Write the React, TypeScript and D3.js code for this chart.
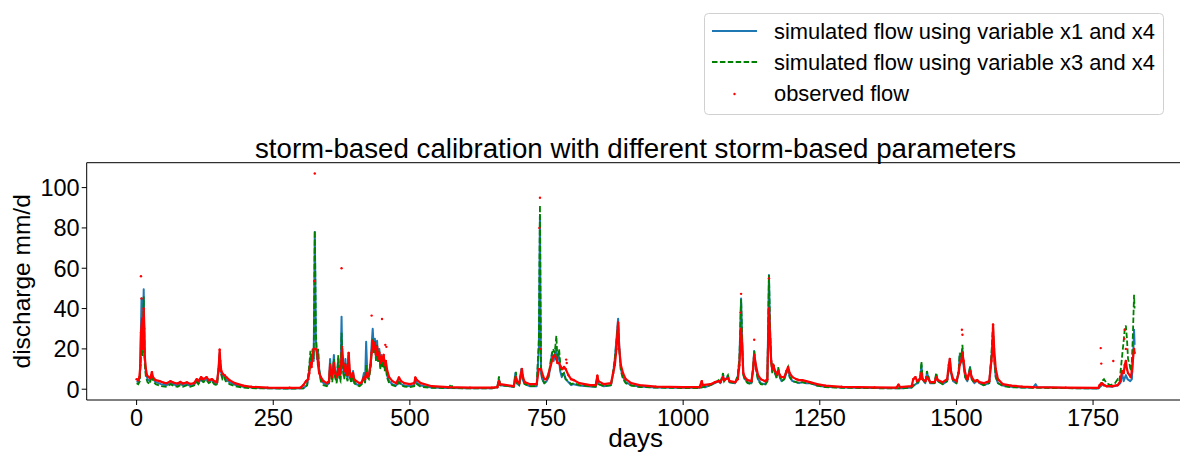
import React from "react";
import * as d3 from "d3";

type P = [number, number];

// simulated flow using variable x1 and x4  [day, mm/d]
const simX1X4: P[] = [
  [0,4],[3,3.5],[6,6],[8,30],[9,45],[10,30],[11,20],[12,35],[13,49.6],[14,30],[15,15],[17,8],[20,5],[24,4],[28,7.5],[30,5],[35,3.5],[45,2.5],[55,2],[62,3],[68,2.3],[75,1.8],[80,2.8],[85,1.8],[92,2.5],[98,1.6],[105,2.2],[110,4],[113,3],[118,5],[122,4],[128,5],[132,3.5],[138,4.5],[142,3],[147,2.5],[150,10],[152,18],[154,9],[157,6],[160,7],[163,5],[170,3.5],[180,2.2],[195,1.2],[210,0.8],[240,0.5],[280,0.4],[305,0.5],[312,2],[316,10],[318,16],[320,12],[322,18],[324,14],[326,78],[327,55],[328,25],[330,15],[332,19],[334,10],[337,5],[342,3],[348,2],[352,3],[354,15],[356,8],[358,5],[361,17],[363,8],[366,4],[369,15],[371,6],[373,5],[375,36],[376,20],[378,10],[380,6],[382,15],[384,8],[386,5],[388,17],[390,7],[393,4],[396,9],[398,4],[402,2.5],[408,2],[412,3],[416,8],[418,3.5],[420,23.5],[422,8],[425,6],[428,12],[430,22],[432,30],[434,20],[436,25],[438,15],[440,24],[442,14],[444,20],[446,11],[448,17],[450,12],[452,16],[454,10],[456,14],[458,7],[462,4],[468,2.5],[475,1.8],[480,4],[484,2.5],[490,1.8],[500,1.5],[508,2],[510,5],[513,3],[520,1.8],[540,0.9],[570,0.6],[610,0.5],[650,0.5],[660,1],[663,5],[665,2],[690,1.2],[693,8],[695,3],[700,2],[704,10],[706,5],[710,2.5],[720,1.5],[732,1.5],[736,20],[738,86],[739,40],[740,8],[742,5],[746,3],[750,4],[754,6],[758,13],[760,18],[763,14],[767,20],[769,14],[772,18],[775,9],[778,6],[782,8],[785,5],[790,3.5],[795,2],[800,2.5],[810,1.8],[830,1.3],[840,1.2],[843,5],[845,2.5],[855,1.5],[868,2],[872,8],[875,15],[878,25],[881,35],[883,22],[886,10],[890,6],[895,3.5],[905,2],[920,1.3],[950,0.9],[1000,0.7],[1030,0.7],[1034,1.5],[1040,1],[1050,2],[1058,3],[1065,4],[1068,3],[1073,7],[1075,4],[1082,6.5],[1085,3.5],[1095,3],[1100,6.5],[1103,15],[1106,45],[1108,25],[1110,8],[1113,5],[1118,3.5],[1125,3],[1128,10],[1130,19],[1133,11],[1137,5],[1142,3],[1150,2.5],[1154,4],[1157,56.7],[1159,30],[1161,15],[1163,9],[1165,12],[1168,8],[1171,6],[1174,10],[1177,6],[1180,4],[1185,5],[1189,8],[1192,10],[1195,6],[1200,4],[1207,3.5],[1212,3],[1218,3.5],[1225,3],[1232,3],[1245,1.8],[1260,1.2],[1290,0.8],[1350,0.6],[1400,0.5],[1418,0.8],[1425,2.5],[1430,3],[1434,6],[1436,12],[1438,5],[1443,3],[1446,8],[1449,6],[1452,3],[1460,3],[1463,7],[1466,4],[1475,2.5],[1483,4],[1486,10],[1488,15],[1490,8],[1494,4],[1500,3],[1504,8],[1506,17],[1509,14],[1511,20],[1513,12],[1516,6],[1520,4],[1525,11],[1528,5],[1533,3],[1538,4.5],[1542,3],[1550,2],[1560,3],[1564,15],[1566,24],[1567,28],[1569,15],[1572,6],[1576,3],[1585,1.8],[1600,1.2],[1620,0.9],[1640,0.8],[1645,2.5],[1648,1],[1700,0.6],[1760,0.4],[1762,1],[1768,2.5],[1775,1.5],[1785,1.2],[1795,2],[1800,3],[1803,8],[1806,4],[1810,7],[1813,5],[1818,4],[1821,5],[1823,15],[1825,29.5],[1826,22]
];

// simulated flow using variable x3 and x4  [day, mm/d]
const simX3X4: P[] = [
  [0,3],[3,2.5],[6,4],[8,18],[9,28],[10,20],[11,16],[12,30],[13,46],[14,28],[15,12],[17,6],[20,3.5],[24,2.5],[28,7],[30,4],[35,2.5],[45,1.5],[55,1.2],[62,2.5],[68,1.5],[75,1.2],[80,2],[85,1.2],[92,2],[98,1.2],[105,1.8],[110,3.5],[113,2.5],[118,4.5],[122,3.5],[128,4.5],[132,3],[138,4],[142,2.5],[147,2],[150,9],[152,17],[154,8],[157,5],[160,6],[163,4],[170,2.5],[180,1.5],[195,0.8],[210,0.5],[240,0.4],[280,0.3],[305,0.4],[312,2],[316,12],[318,19],[320,14],[322,20],[324,15],[326,78.6],[327,55],[328,28],[330,17],[332,20],[334,10],[337,4],[342,2],[348,1.5],[352,2.5],[354,13],[356,6],[358,3.5],[361,15],[363,6],[366,3],[369,17],[371,5],[373,4],[375,28],[376,18],[378,8],[380,5],[382,13],[384,6],[386,4],[388,18],[390,6],[393,3],[396,8],[398,3],[402,2],[408,1.5],[412,2.5],[416,6],[418,3],[420,12],[422,6],[425,5],[428,10],[430,18],[432,25],[434,18],[436,24],[438,14],[440,22],[442,13],[444,19],[446,10],[448,16],[450,11],[452,15],[454,9],[456,13],[458,6],[462,3],[468,2],[475,1.3],[480,3.5],[484,2],[490,1.3],[500,1],[508,1.5],[510,5],[513,2.5],[520,1.2],[540,0.7],[570,0.5],[576,2.5],[578,0.6],[610,0.4],[650,0.4],[660,1],[663,6.4],[665,2],[690,1.2],[694,8.6],[696,3],[700,2],[705,10.5],[707,5],[710,2.5],[720,1.5],[732,1.5],[736,25],[738,91.3],[739,45],[740,10],[742,5],[746,3],[750,4],[754,7],[758,15],[762,20],[765,18],[768,26.5],[770,15],[773,20],[776,10],[779,7],[782,8],[785,5],[790,4],[795,2.5],[800,3],[810,2],[830,1.5],[840,1.2],[843,6.7],[845,2.5],[855,1.5],[868,2],[872,9],[875,15],[878,24],[881,33],[883,20],[886,9],[890,5],[895,3],[905,1.8],[920,1.1],[950,0.8],[1000,0.6],[1030,0.6],[1050,2],[1058,3],[1065,4.5],[1068,3],[1073,8],[1075,4],[1082,7],[1085,3.5],[1095,3],[1100,7],[1103,16],[1106,44.6],[1108,24],[1110,7],[1113,4.5],[1118,3],[1125,2.5],[1128,11],[1130,19],[1133,10],[1137,4.5],[1142,2.5],[1150,2],[1154,4],[1157,56.7],[1159,30],[1161,14],[1163,8],[1165,13],[1168,8],[1171,5.5],[1174,11],[1177,6],[1180,4],[1185,5],[1189,9],[1192,11],[1195,6],[1200,4],[1207,3.5],[1212,3],[1218,3.5],[1225,3],[1232,3],[1245,1.8],[1260,1],[1290,0.7],[1350,0.5],[1400,0.4],[1418,0.8],[1425,3],[1430,3.5],[1434,7],[1436,13.8],[1438,5],[1443,3],[1446,9],[1449,6],[1452,3],[1460,3],[1463,8.2],[1466,4],[1475,2.5],[1483,4],[1486,11],[1488,14.5],[1490,8],[1494,4],[1500,3],[1504,9],[1506,18],[1509,16],[1511,22],[1513,13],[1516,6],[1520,4],[1525,11],[1528,5],[1533,3],[1538,4.5],[1542,3],[1550,2],[1560,3],[1564,17],[1566,28],[1567,32],[1569,16],[1572,6],[1576,3],[1585,1.6],[1600,1],[1620,0.8],[1640,0.7],[1700,0.5],[1760,0.4],[1762,1.5],[1766,4],[1770,5],[1775,3],[1782,2],[1790,3],[1795,5],[1798,4],[1800,8],[1803,16],[1806,24],[1808,30],[1810,31.6],[1812,25],[1814,15],[1817,12],[1819,9],[1821,14],[1823,28],[1825,46.8],[1826,40]
];

// observed flow, continuous recession trace  [day, mm/d]
const observedTrace: P[] = [
  [0,5],[3,4.5],[5,6],[7,12],[8,28],[10,35],[11,20],[12,25],[13,40],[14,30],[15,16],[17,10],[19,7],[22,6],[25,5.5],[28,8.5],[30,6],[35,4.5],[42,4],[50,3.2],[55,3],[62,4],[68,3.2],[75,2.8],[80,3.6],[85,2.8],[92,3.4],[98,2.6],[105,3],[110,5],[113,4],[118,6],[122,5],[128,6],[132,4.5],[138,5],[142,4],[147,3.5],[150,10],[152,19.6],[153,14],[155,9],[158,7.5],[161,7],[164,6],[170,4.5],[180,3],[195,1.8],[210,1.2],[240,0.8],[280,0.7],[300,0.8],[305,2],[310,4],[314,5],[316,8],[318,13],[320,11],[322,17],[324,20],[328,20],[330,19],[332,12],[334,8],[337,6],[342,4],[348,3],[352,4],[354,12],[356,8],[358,6],[361,13],[363,8],[366,6],[369,10],[371,7],[373,8],[376,20],[378,13],[380,9],[382,12],[384,8],[386,7],[388,18],[390,9],[393,6],[396,8],[398,5],[402,4],[408,3],[412,3.5],[416,6],[418,5],[420,8],[422,6],[425,7],[428,12],[430,18],[432,24],[434,20],[436,23],[438,17],[440,21],[442,15],[444,18],[446,13],[448,16],[450,14],[452,17],[454,12],[456,14],[458,10],[462,6],[468,4],[475,3],[480,5.8],[484,4],[490,3],[500,2.5],[508,3],[510,5.8],[513,4.5],[520,3],[540,1.5],[570,1],[610,0.8],[650,0.8],[660,1],[663,4],[665,2.5],[690,1.5],[694,6],[696,4],[700,3],[705,10],[707,6],[710,3.5],[720,2.5],[732,2.5],[736,10],[740,10],[742,8],[746,5],[750,5],[754,8],[758,12],[762,16],[765,17],[768,15],[770,13],[773,13],[776,11],[779,10],[782,11],[785,10],[790,7],[795,5],[800,4.5],[810,3],[830,2],[840,2],[843,6.7],[845,4],[855,2.5],[868,3],[872,8],[875,12],[878,20],[881,33],[883,20],[886,12],[890,8],[895,5],[905,3],[920,2],[950,1.3],[1000,1],[1030,1],[1034,4],[1036,2],[1050,2.5],[1058,3.5],[1065,4],[1068,3.5],[1073,6],[1075,4.5],[1082,5.5],[1085,4],[1095,3.5],[1100,5],[1103,12],[1106,30],[1108,20],[1110,8],[1113,6],[1118,4.5],[1125,4],[1128,10],[1130,17],[1133,12],[1137,7],[1142,5],[1150,4],[1154,5],[1157,40],[1159,25],[1161,14],[1163,10],[1165,11.9],[1168,9],[1171,7.5],[1174,9],[1177,7],[1180,6],[1185,6],[1189,9],[1192,11],[1195,8],[1200,6],[1207,5],[1212,4.5],[1218,4.5],[1225,4],[1232,3.5],[1245,2.5],[1260,1.8],[1290,1.2],[1350,0.9],[1390,0.8],[1394,2.3],[1397,1],[1418,1.5],[1421,5],[1425,6],[1428,4],[1433,5],[1436,8],[1438,5],[1443,4],[1446,6],[1449,5],[1452,3.5],[1460,3.5],[1463,6],[1466,4.5],[1475,3.5],[1483,5],[1486,12],[1488,15],[1490,9],[1494,5],[1500,4],[1504,8],[1506,12],[1509,14],[1511,18],[1513,14],[1516,8],[1520,5],[1525,9],[1528,6],[1533,4],[1538,4.5],[1542,3.5],[1550,3],[1560,4],[1564,14],[1566,20],[1567,32],[1569,20],[1572,10],[1576,5],[1585,2.5],[1600,1.8],[1620,1.3],[1640,1],[1700,0.8],[1760,0.7],[1762,2],[1766,3],[1770,2],[1775,1.5],[1785,1.5],[1795,2],[1800,4],[1803,9],[1806,8],[1808,12],[1810,14],[1812,10],[1814,8],[1817,7],[1819,6],[1821,9],[1823,15],[1825,20],[1826,18]
];

// observed flow, isolated high readings  [day, mm/d]
const observedPeaks: P[] = [
  [8,56],[9,45],[325,53.7],[326,107],[375,60],[376,21],[430,36.5],[449,34.8],[455,22],[457,21],[737,80],[738,95],[739,20],[786,14.7],[787,13],[1105,38],[1106,47.3],[1130,24.5],[1157,55],[1510,29.5],[1511,27],[1567,32],[1764,20.4],[1765,12.7],[1787,14],[1807,25],[1808,29.5],[1810,20]
];

const xTicks = [0, 250, 500, 750, 1000, 1250, 1500, 1750];
const yTicks = [0, 20, 40, 60, 80, 100];

const legendLabels = [
  "simulated flow using variable x1 and x4",
  "simulated flow using variable x3 and x4",
  "observed flow",
];
const titleText = "storm-based calibration with different storm-based parameters";
const xLabel = "days";
const yLabel = "discharge mm/d";

const FONT = "'Liberation Sans', Arial, Helvetica, sans-serif";
const BLUE = "#1f77b4";
const GREEN = "#008000";
const RED = "#ff0000";

export default function App() {
  const W = 1180, H = 455;
  const left = 86.7, right = 1184.5, top = 162.7, bottom = 400;
  const x = d3.scaleLinear().domain([-91.3, 1917.3]).range([left, right]);
  const y = d3.scaleLinear().domain([-5.35, 112.35]).range([bottom, top]);
  const line = d3.line<P>().x(d => x(d[0])).y(d => y(d[1]));

  return (
    <svg width={W} height={H} style={{ position: "absolute", left: 0, top: 0, background: "#fff" }} fontFamily={FONT}>
      <rect x={0} y={0} width={W} height={H} fill="#fff" />
      <defs>
        <clipPath id="plotclip">
          <rect x={left} y={top} width={right - left} height={bottom - top} />
        </clipPath>
      </defs>
      <g clipPath="url(#plotclip)">
        <path d={line(simX1X4) || ""} fill="none" stroke={BLUE} strokeWidth={2} strokeLinejoin="round" />
        <path d={line(simX3X4) || ""} fill="none" stroke={GREEN} strokeWidth={1.8} strokeDasharray="5.5,2.4" />
        <path d={line(observedTrace) || ""} fill="none" stroke={RED} strokeWidth={2.2} strokeLinejoin="round" />
        {observedTrace.map((d, i) => (
          <circle key={"o" + i} cx={x(d[0])} cy={y(d[1])} r={1.2} fill={RED} />
        ))}
        {observedPeaks.map((d, i) => (
          <circle key={"p" + i} cx={x(d[0])} cy={y(d[1])} r={1.2} fill={RED} />
        ))}
      </g>
      {/* axes frame */}
      <line x1={left} x2={left} y1={top} y2={bottom} stroke="#000" strokeWidth={1} />
      <line x1={left} x2={right} y1={bottom} y2={bottom} stroke="#000" strokeWidth={1} />
      <line x1={left} x2={right} y1={top} y2={top} stroke="#000" strokeWidth={1} />
      <line x1={right} x2={right} y1={top} y2={bottom} stroke="#000" strokeWidth={1} />
      {xTicks.map(t => (
        <g key={"xt" + t}>
          <line x1={x(t)} x2={x(t)} y1={bottom} y2={bottom + 5} stroke="#000" />
          <text x={x(t)} y={bottom + 25.5} textAnchor="middle" fontSize={23.5} fill="#000">{t}</text>
        </g>
      ))}
      {yTicks.map(t => (
        <g key={"yt" + t}>
          <line x1={left - 5} x2={left} y1={y(t)} y2={y(t)} stroke="#000" />
          <text x={left - 7} y={y(t) + 8.3} textAnchor="end" fontSize={23.5} fill="#000">{t}</text>
        </g>
      ))}
      <text x={(left + right) / 2} y={447} textAnchor="middle" fontSize={26} fill="#000">{xLabel}</text>
      <text transform={`translate(30,${(top + bottom) / 2}) rotate(-90)`} textAnchor="middle" fontSize={24.5} fill="#000">{yLabel}</text>
      <text x={(left + right) / 2} y={157.5} textAnchor="middle" fontSize={27.7} fill="#000">{titleText}</text>
      {/* legend */}
      <rect x={704.5} y={13.5} width={459} height={101} rx={4} fill="#fff" stroke="#d0d0d0" strokeWidth={1} />
      <line x1={712} x2={757} y1={31} y2={31} stroke={BLUE} strokeWidth={2} />
      <line x1={712} x2={757} y1={62} y2={62} stroke={GREEN} strokeWidth={1.8} strokeDasharray="5.5,2.4" />
      <circle cx={734.5} cy={94} r={1.2} fill={RED} />
      {legendLabels.map((l, i) => (
        <text key={l} x={774} y={38.8 + i * 31.3} fontSize={21.9} fill="#000">{l}</text>
      ))}
    </svg>
  );
}
